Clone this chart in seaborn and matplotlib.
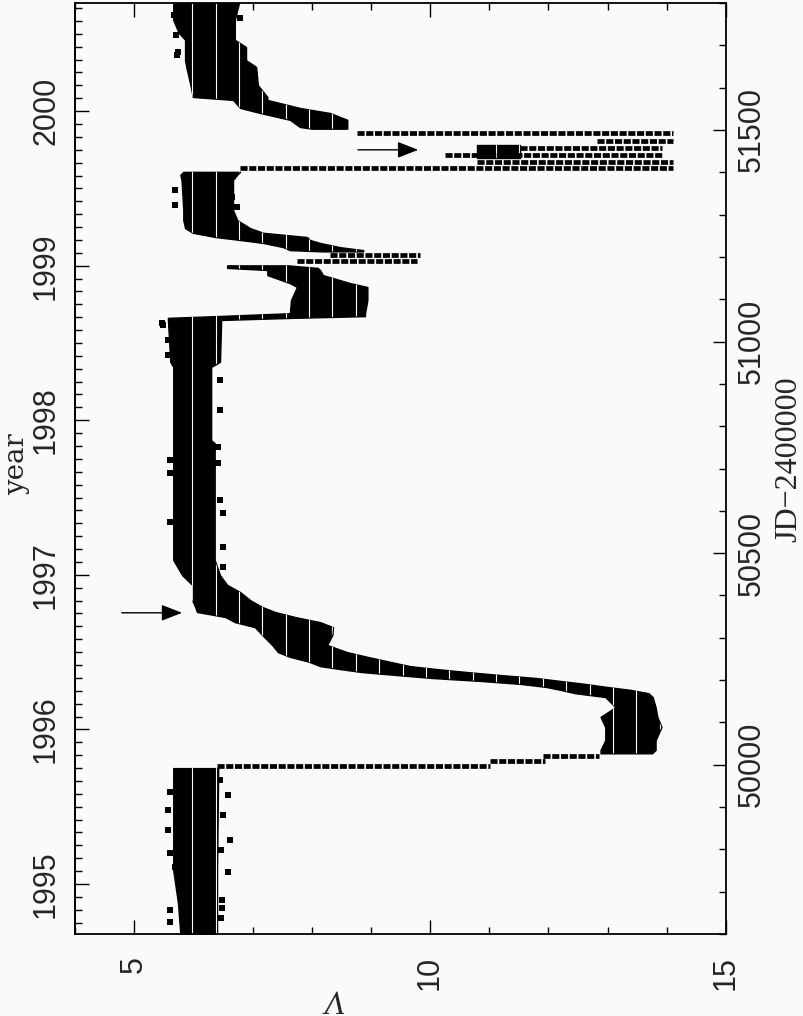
import numpy as np
import pandas as pd
import matplotlib
matplotlib.use("Agg")
import matplotlib.pyplot as plt
import seaborn as sns
from matplotlib.ticker import FixedLocator, MultipleLocator

# ---------------- data ----------------
# dense parts of the light curve: segment id, JD-2400000, brightest V, faintest V
band_seg = [0] * 4 + [1] * 47 + [2] * 13 + [3] * 2 + [4] * 15
band_jd = [49600, 49673, 49751, 49992,
           50027, 50035, 50058, 50089, 50113, 50136, 50160, 50169, 50177, 50184,
           50191, 50198, 50205, 50212, 50219, 50226, 50233, 50243, 50255, 50266,
           50283, 50307, 50325, 50337, 50349, 50361, 50373, 50389, 50408, 50425,
           50448, 50484, 50760, 50767, 50940, 50952, 51051, 51056, 51060, 51067,
           51098, 51129, 51138, 51157, 51169, 51174, 51180,
           51213, 51216, 51223, 51233, 51240, 51247, 51257, 51268, 51287, 51311,
           51382, 51394, 51401,
           51434, 51464,
           51503, 51507, 51524, 51540, 51552, 51571, 51578, 51606, 51649, 51665,
           51696, 51713, 51730, 51760, 51800]
band_vlo = [5.78, 5.74, 5.66, 5.66,
            12.88, 12.88, 12.96, 12.96, 12.88, 13.13, 12.96, 12.45, 12.20, 11.95,
            11.52, 10.85, 10.02, 9.43, 8.84, 8.48, 8.14, 7.96, 7.63, 7.43,
            7.33, 7.16, 7.04, 6.70, 6.54, 6.06, 6.03, 5.98, 5.98, 5.98,
            5.81, 5.66, 5.66, 5.66, 5.66, 5.61, 5.57, 5.57, 6.37, 7.63,
            7.65, 7.75, 7.63, 7.25, 7.25, 6.57, 6.57,
            8.20, 7.63, 7.52, 7.18, 6.79, 6.37, 5.99, 5.86, 5.83, 5.83,
            5.80, 5.78, 5.83,
            10.80, 10.80,
            8.00, 7.80, 7.63, 7.13, 6.79, 6.67, 5.99, 5.95, 5.88, 5.86,
            5.86, 5.86, 5.75, 5.66, 5.66]
band_vhi = [6.40, 6.40, 6.40, 6.42,
            13.75, 13.81, 13.81, 13.91, 13.84, 13.81, 13.76, 13.69, 13.38, 12.98,
            12.62, 12.20, 11.79, 11.19, 10.63, 10.12, 9.66, 9.33, 8.94, 8.60,
            8.26, 8.35, 8.36, 8.14, 7.72, 7.38, 7.16, 6.96, 6.79, 6.57,
            6.45, 6.36, 6.36, 6.30, 6.30, 6.45, 6.47, 7.69, 8.90, 8.90,
            8.94, 8.94, 8.65, 8.19, 8.14, 8.10, 7.60,
            8.87, 8.87, 8.48, 8.14, 7.97, 7.92, 7.18, 6.96, 6.74, 6.67,
            6.67, 6.74, 6.79,
            11.52, 11.52,
            8.60, 8.60, 8.60, 8.31, 7.80, 7.25, 7.25, 7.09, 7.06, 6.89,
            6.89, 6.70, 6.70, 6.70, 6.77]

# rows of observations taken during fast changes: JD, V from, V to
run_jd = [49996, 50009, 50020, 51190, 51204, 51410, 51424, 51441, 51457, 51474, 51493]
run_v0 = [6.40, 11.02, 11.90, 7.75, 8.31, 6.79, 10.80, 10.26, 11.52, 12.82, 8.77]
run_v1 = [11.02, 11.95, 12.85, 9.78, 9.83, 14.11, 14.11, 13.94, 13.92, 14.11, 14.11]

# isolated outlying observations
out_jd = [49935, 49893, 49846, 49791, 49758, 49657, 49628, 49929, 49822, 49747,
          49680, 49661, 49638, 49964, 49882, 49798,
          51039, 51004, 50968, 50720, 50689, 50574, 50909, 50838, 50751, 50713,
          50626, 50595, 50515, 50467,
          51772, 51724, 51684, 51677, 51689, 51765,
          51358, 51323, 51342, 51318, 51044]
out_v = [5.61, 5.57, 5.57, 5.61, 5.69, 5.61, 5.61, 6.59, 6.62, 6.59,
         6.49, 6.49, 6.47, 6.45, 6.50, 6.47,
         5.49, 5.57, 5.57, 5.61, 5.61, 5.61, 6.45, 6.45, 6.42, 6.42,
         6.45, 6.50, 6.50, 6.50,
         5.67, 5.71, 5.74, 5.72, 6.82, 6.79,
         5.69, 5.69, 6.65, 6.74, 5.47]

# arrows
arrow_jd = [50359, 51453]
arrow_v_tail = [4.79, 8.78]
arrow_v_head = [5.81, 9.80]

# axes
v_ticks = [5, 10, 15]
jd_ticks = [50000, 50500, 51000, 51500]
year_ticks = [1995, 1996, 1997, 1998, 1999, 2000]
v_lim = (4, 15)
jd_lim = (49600, 51800)

# ---------------- drawing ----------------
sns.set_theme(style="ticks")
plt.rcParams["font.family"] = ["Liberation Sans", "DejaVu Sans"]
plt.rcParams["xtick.alignment"] = "center"
plt.rcParams["ytick.alignment"] = "center"

BG = "#fafafa"
W, H = 804, 1016
fig = plt.figure(figsize=(W / 100, H / 100), dpi=100)
fig.patch.set_facecolor(BG)
ax = fig.add_axes([75 / W, 1 - 934 / H, (726 - 75) / W, (934 - 3) / H])
ax.set_facecolor(BG)

# thin light gaps that the magnitude binning leaves inside the dense bands
texture_v = 5.98 + 0.395 * np.arange(22)

bands = pd.DataFrame({"seg": band_seg, "jd": band_jd, "lo": band_vlo, "hi": band_vhi})
for _, g in bands.groupby("seg"):
    coll = ax.fill_betweenx(g["jd"], g["lo"], g["hi"], color="black", linewidth=1.0)
    gaps = ax.vlines(texture_v, jd_lim[0], jd_lim[1], colors=BG, linewidth=0.8)
    gaps.set_clip_path(coll.get_paths()[0], ax.transData)

ax.hlines(run_jd, run_v0, run_v1, colors="black", linewidth=3.4,
          linestyles=[(0, (1.5, 0.35))])

sns.scatterplot(x=out_v, y=out_jd, ax=ax, color="black", s=13, marker="s",
                linewidth=0, legend=False)

for jd, v0, v1 in zip(arrow_jd, arrow_v_tail, arrow_v_head):
    ax.annotate("", xy=(v1, jd), xytext=(v0, jd),
                arrowprops=dict(arrowstyle="-|>,head_length=0.85,head_width=0.33",
                                color="black", lw=1.0, mutation_scale=15,
                                shrinkA=0, shrinkB=0))

ax.set_xlim(*v_lim)
ax.set_ylim(*jd_lim)

for sp in ax.spines.values():
    sp.set_linewidth(1.3)
    sp.set_color("black")
    sp.set_visible(True)

# V axis (bottom, with ticks mirrored on top)
ax.xaxis.set_major_locator(FixedLocator(v_ticks))
ax.xaxis.set_minor_locator(MultipleLocator(1))
ax.tick_params(axis="x", which="both", direction="in", bottom=True, top=True,
               labelbottom=True, labeltop=False, width=1.0, color="black")
ax.tick_params(axis="x", which="major", length=10, labelsize=22, pad=16,
               labelrotation=90)
ax.tick_params(axis="x", which="minor", length=5)

# JD axis (right)
ax.yaxis.set_major_locator(FixedLocator(jd_ticks))
ax.yaxis.set_minor_locator(MultipleLocator(100))
ax.tick_params(axis="y", which="both", direction="in", left=False, right=True,
               labelleft=False, labelright=True, width=1.0, color="black")
ax.tick_params(axis="y", which="major", length=9.5, labelsize=22, pad=8,
               labelrotation=90)
ax.tick_params(axis="y", which="minor", length=5)
ax.set_xlabel("")
ax.set_ylabel("")


# year axis (left)
def jd_to_year(jd):
    return 2000.0 + (np.asarray(jd, dtype=float) - 51544.5) / 365.25


def year_to_jd(yr):
    return 51544.5 + (np.asarray(yr, dtype=float) - 2000.0) * 365.25


sec = ax.secondary_yaxis("left", functions=(jd_to_year, year_to_jd))
sec.yaxis.set_major_locator(FixedLocator(year_ticks))
sec.yaxis.set_minor_locator(MultipleLocator(1 / 12))
sec.tick_params(which="both", direction="in", width=1.0, color="black")
sec.tick_params(which="major", length=10, labelsize=22, pad=10, labelrotation=90)
sec.tick_params(which="minor", length=5)
sec.spines["left"].set_linewidth(1.3)

for lab in sec.yaxis.get_ticklabels():
    lab.set_va("center")
for lab in ax.yaxis.get_ticklabels():
    lab.set_va("center")

# axis titles (kept just inside the canvas)
fig.text(24 / W, 1 - 464 / H, "year", rotation=90, rotation_mode="anchor",
         ha="center", va="baseline", fontsize=20, family=["DejaVu Serif"])
fig.text(796 / W, 1 - 459 / H, "JD\u22122400000", rotation=90, rotation_mode="anchor",
         ha="center", va="baseline", fontsize=23,
         family=["Liberation Serif", "DejaVu Serif"])
fig.text(333 / W, 1 - 990 / H, "V", rotation=180, rotation_mode="anchor",
         ha="center", va="baseline", fontsize=24, style="italic",
         family=["Liberation Serif", "DejaVu Serif"])

fig.savefig("out.png", dpi=100, facecolor=BG)
